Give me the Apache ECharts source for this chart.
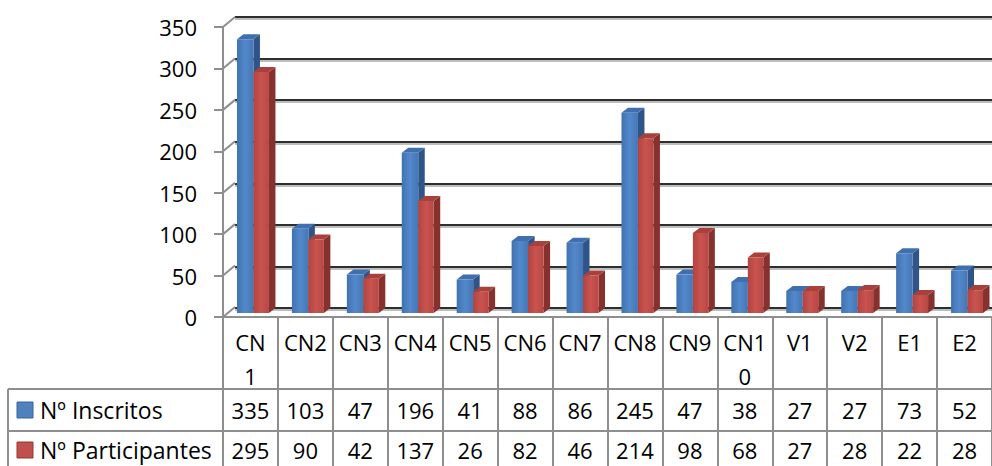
<!DOCTYPE html>
<html>
<head>
<meta charset="utf-8">
<script src="https://cdn.jsdelivr.net/npm/echarts@6/dist/echarts.min.js"></script>
<style>
html,body{margin:0;padding:0;background:#fff;}
#chart{width:992px;height:466px;}
</style>
</head>
<body>
<div id="chart"></div>
<script>
// ---- data ----
const categories = ['CN1','CN2','CN3','CN4','CN5','CN6','CN7','CN8','CN9','CN10','V1','V2','E1','E2'];
const categoryLabels = ['CN\n1','CN2','CN3','CN4','CN5','CN6','CN7','CN8','CN9','CN1\n0','V1','V2','E1','E2'];
const inscritos = [335,103,47,196,41,88,86,245,47,38,27,27,73,52];
const participantes = [295,90,42,137,26,82,46,214,98,68,27,28,22,28];
const seriesNames = ['Nº Inscritos','Nº Participantes'];
const yTicks = [0,50,100,150,200,250,300,350];

const FONT = 'Open Sans';
const GRAY = '#8e8e8e';
const FS = 22;

const chart = echarts.init(document.getElementById('chart'), null, {renderer:'svg'});

const palettes = [
  {front:['#4172b0','#5289cb','#4676b5'], top:'#3f6fae', side:'#2f5588'},
  {front:['#b2443f','#c9534f','#b84844'], top:'#a9403c', side:'#87312e'}
];

function barRender(idx){
  return function(params, api){
    const ci = api.value(0), v = api.value(1);
    const t = api.coord([ci, v]);
    const b = api.coord([ci, 0]);
    const bw = api.size([1,0])[0];
    const start = t[0] - bw/2;
    const x0 = start + bw*(idx===0 ? 14/55 : 30.5/55);
    const w = bw*(idx===0 ? 16.5/55 : 15.5/55);
    const dx = 6.5, dy = 5;
    const p = palettes[idx];
    const x1 = x0 + w;
    return {
      type:'group',
      children:[
        {type:'polygon', shape:{points:[[x1,t[1]],[x1+dx,t[1]-dy],[x1+dx,b[1]-dy],[x1,b[1]]]}, style:{fill:p.side}},
        {type:'polygon', shape:{points:[[x0,t[1]],[x1,t[1]],[x1+dx,t[1]-dy],[x0+dx,t[1]-dy]]}, style:{fill:p.top}},
        {type:'rect', shape:{x:x0, y:t[1], width:w, height:b[1]-t[1]},
          style:{fill:new echarts.graphic.LinearGradient(0,0,1,0,[{offset:0,color:p.front[0]},{offset:0.5,color:p.front[1]},{offset:1,color:p.front[2]}])}}
      ]
    };
  };
}

function diagRender(params, api){
  const v = api.value(1);
  const p = api.coord([0, v]);
  const bw = api.size([1,0])[0];
  const xl = p[0] - bw/2;
  return {type:'line', shape:{x1:xl, y1:p[1], x2:xl+12, y2:p[1]-10}, style:{stroke:GRAY, lineWidth:2}};
}

const gridGeom = {left:223, right:0, top:27, bottom:149};
const hiddenY = (g)=>({type:'value', gridIndex:g, min:0, max:350, interval:50, show:false});
const hiddenX = (g)=>({type:'category', gridIndex:g, data:categories, show:false});
const wallY = (g, color)=>({type:'value', gridIndex:g, min:0, max:350, interval:50,
  axisLine:{show:false}, axisTick:{show:false}, axisLabel:{show:false},
  splitLine:{show:true, lineStyle:{color:color, width:2}}});
const wallX = (g)=>({type:'category', gridIndex:g, data:categories,
  axisLine:{show:false}, axisTick:{show:false}, axisLabel:{show:false}, splitLine:{show:false}});

const option = {
  animation:false,
  textStyle:{fontFamily:FONT},
  grid:[
    Object.assign({}, gridGeom),
    {left:235, right:0, top:17, bottom:158},
    {left:223, right:0, top:27, bottom:153},
    Object.assign({}, gridGeom),
    Object.assign({}, gridGeom),
    {left:235, right:0, top:19, bottom:156}
  ],
  xAxis:[
    {type:'category', gridIndex:0, data:categories, boundaryGap:true,
      axisLine:{show:true, lineStyle:{color:GRAY, width:2}},
      axisTick:{show:true, interval:0, length:150, lineStyle:{color:GRAY, width:2}},
      axisLabel:{interval:0, color:'#000', fontSize:FS, fontFamily:FONT, lineHeight:34, margin:8, verticalAlign:'top',
        formatter:(v,i)=>categoryLabels[i]}},
    wallX(1),
    hiddenX(2),
    {type:'category', gridIndex:3, data:categories, axisLine:{show:false}, axisTick:{show:false},
      axisLabel:{interval:0, color:'#000', fontSize:FS, fontFamily:FONT, margin:93, verticalAlign:'middle',
        formatter:(v,i)=>String(inscritos[i])}},
    {type:'category', gridIndex:4, data:categories, axisLine:{show:false}, axisTick:{show:false},
      axisLabel:{interval:0, color:'#000', fontSize:FS, fontFamily:FONT, margin:133, verticalAlign:'middle',
        formatter:(v,i)=>String(participantes[i])}},
    wallX(5)
  ],
  yAxis:[
    {type:'value', gridIndex:0, min:0, max:350, interval:50,
      axisLine:{show:true, lineStyle:{color:GRAY, width:2}},
      axisTick:{show:true, length:9, lineStyle:{color:GRAY, width:2}},
      splitLine:{show:false},
      axisLabel:{color:'#000', fontSize:FS, fontFamily:FONT, margin:26}},
    wallY(1, '#2e2e2e'),
    hiddenY(2), hiddenY(3), hiddenY(4),
    wallY(5, '#bdbdbd')
  ],
  series:[
    {type:'custom', xAxisIndex:5, yAxisIndex:5, data:yTicks.map(v=>[0,v]), renderItem:()=>({type:'group',children:[]}), silent:true},
    {type:'custom', xAxisIndex:1, yAxisIndex:1, data:yTicks.map(v=>[0,v]), renderItem:()=>({type:'group',children:[]}), silent:true},
    {type:'custom', xAxisIndex:0, yAxisIndex:0, data:yTicks.map(v=>[0,v]), renderItem:diagRender, silent:true, clip:false},
    {type:'custom', name:seriesNames[0], xAxisIndex:2, yAxisIndex:2, data:inscritos.map((v,i)=>[i,v]), renderItem:barRender(0), clip:false},
    {type:'custom', name:seriesNames[1], xAxisIndex:2, yAxisIndex:2, data:participantes.map((v,i)=>[i,v]), renderItem:barRender(1), clip:false}
  ],
  graphic:[
    {type:'line', shape:{x1:8, y1:389, x2:992, y2:389}, style:{stroke:GRAY, lineWidth:2}},
    {type:'line', shape:{x1:8, y1:431, x2:992, y2:431}, style:{stroke:GRAY, lineWidth:2}},
    {type:'line', shape:{x1:8, y1:389, x2:8, y2:466}, style:{stroke:GRAY, lineWidth:2}},
    {type:'rect', shape:{x:17, y:402, width:16, height:16}, style:{fill:'#4f81bd', stroke:'#3a62a0', lineWidth:1}},
    {type:'text', x:40, y:410, style:{text:seriesNames[0], font:'23px "Open Sans"', fill:'#000', verticalAlign:'middle'}},
    {type:'rect', shape:{x:17, y:442, width:16, height:16}, style:{fill:'#c0504d', stroke:'#943634', lineWidth:1}},
    {type:'text', x:40, y:450, style:{text:seriesNames[1], font:'23px "Open Sans"', fill:'#000', verticalAlign:'middle'}}
  ]
};
chart.setOption(option);
</script>
</body>
</html>
